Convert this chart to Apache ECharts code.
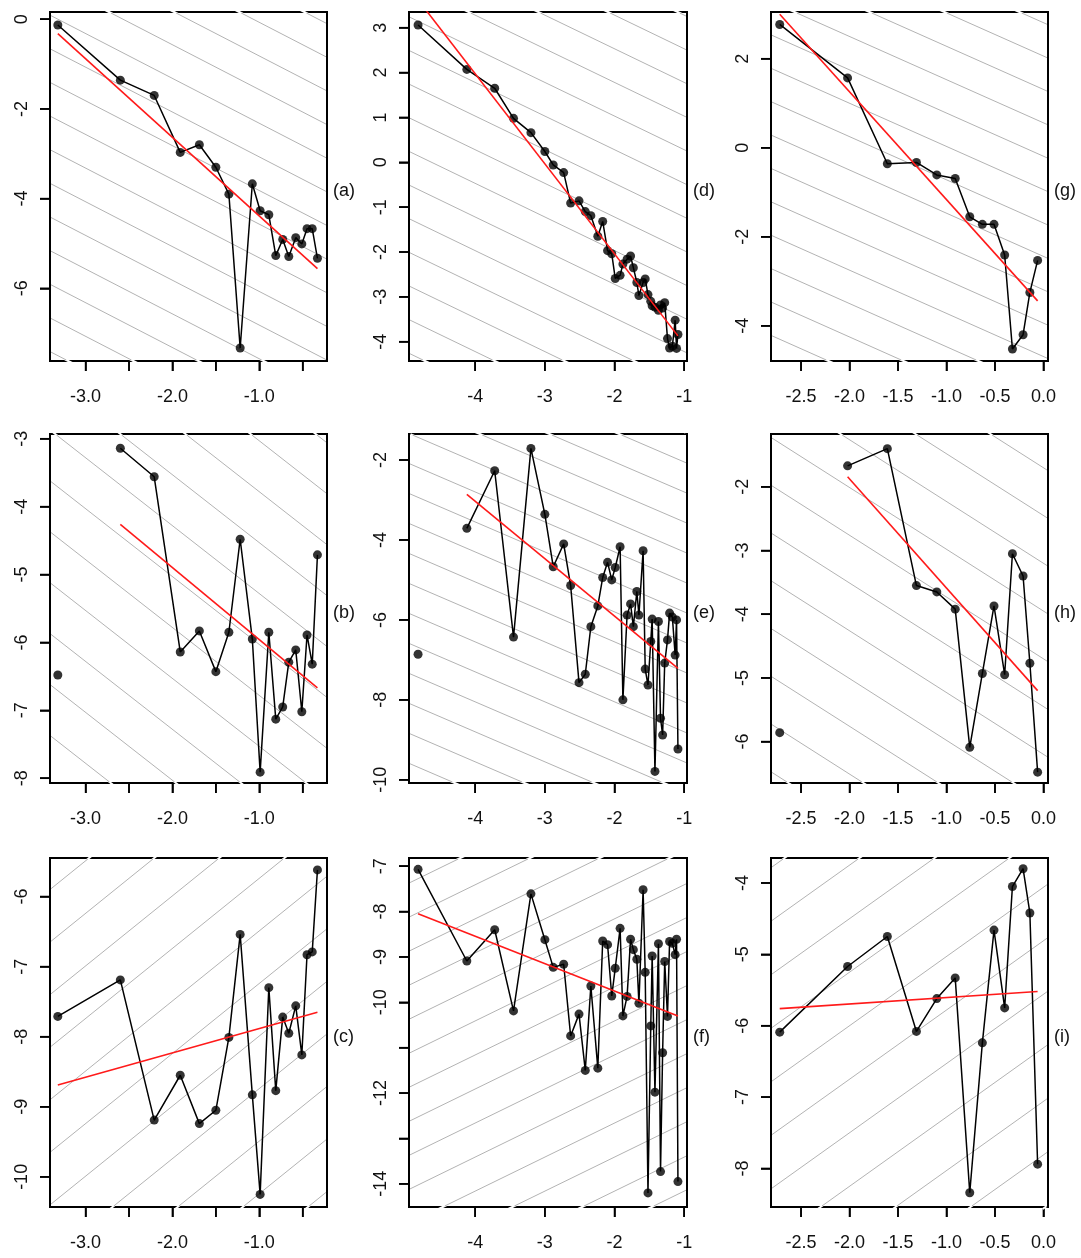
<!DOCTYPE html>
<html>
<head>
<meta charset="utf-8">
<script src="https://cdn.jsdelivr.net/npm/echarts@6/dist/echarts.min.js"></script>
<style>
  html, body { margin: 0; padding: 0; background: #fff; }
  #chart { width: 1081px; height: 1258px; background: #fff; }
</style>
</head>
<body>
<div id="chart"></div>
<script>
// Shared x positions for each column of panels
const colX1 = [-3.32, -2.60, -2.21, -1.91, -1.69, -1.50, -1.35, -1.22, -1.08, -0.99, -0.89, -0.81, -0.73, -0.66, -0.58, -0.51, -0.45, -0.39, -0.33];
const colX2 = [-4.82, -4.12, -3.72, -3.45, -3.20, -3.00, -2.88, -2.73, -2.63, -2.51, -2.42, -2.34, -2.24, -2.17, -2.10, -2.04, -1.99, -1.92, -1.88, -1.82,
               -1.77, -1.73, -1.68, -1.65, -1.59, -1.56, -1.52, -1.48, -1.46, -1.42, -1.37, -1.34, -1.31, -1.28, -1.24, -1.21, -1.17, -1.13, -1.11, -1.09];
const colX3 = [-2.72, -2.02, -1.61, -1.31, -1.10, -0.91, -0.76, -0.63, -0.51, -0.40, -0.32, -0.21, -0.14, -0.06];

// Observed values per panel
const yA = [-0.13, -1.36, -1.70, -2.97, -2.80, -3.30, -3.90, -7.33, -3.67, -4.27, -4.36, -5.27, -4.91, -5.29, -4.87, -5.01, -4.67, -4.67, -5.33];
const yB = [-6.48, -3.14, -3.56, -6.14, -5.83, -6.43, -5.85, -4.48, -5.95, -7.91, -5.85, -7.13, -6.95, -6.29, -6.11, -7.02, -5.89, -6.32, -4.71];
const yC = [-7.71, -7.19, -9.19, -8.55, -9.24, -9.05, -8.01, -6.54, -8.83, -10.25, -7.30, -8.77, -7.72, -7.95, -7.56, -8.26, -6.83, -6.79, -5.62];
const yD = [3.06, 2.07, 1.65, 0.98, 0.66, 0.24, -0.06, -0.23, -0.91, -0.86, -1.10, -1.19, -1.65, -1.32, -1.97, -2.04, -2.59, -2.52, -2.27, -2.16,
            -2.09, -2.35, -2.68, -2.97, -2.68, -2.60, -2.95, -3.10, -3.20, -3.23, -3.30, -3.18, -3.25, -3.13, -3.93, -4.14, -4.10, -3.52, -4.15, -3.84];
const yE = [-6.86, -3.71, -2.27, -6.43, -1.71, -3.36, -4.67, -4.10, -5.14, -7.57, -7.36, -6.17, -5.65, -4.94, -4.56, -5.00, -4.69, -4.17, -8.00, -5.88,
            -5.60, -6.17, -5.29, -5.88, -4.27, -7.23, -7.63, -6.54, -5.98, -9.79, -6.04, -8.46, -8.88, -7.08, -6.50, -5.83, -5.93, -6.88, -6.00, -9.23];
const yF = [-7.07, -9.09, -8.40, -10.19, -7.61, -8.62, -9.23, -9.16, -10.74, -10.26, -11.50, -9.64, -11.45, -8.65, -8.73, -9.86, -9.25, -8.37, -10.30, -9.87,
            -8.61, -8.84, -9.05, -10.02, -7.52, -9.34, -14.20, -10.52, -8.98, -11.98, -8.71, -13.73, -11.11, -9.10, -10.31, -8.66, -8.70, -8.95, -8.61, -13.95];
const yG = [2.77, 1.57, -0.36, -0.33, -0.61, -0.69, -1.55, -1.72, -1.72, -2.41, -4.52, -4.20, -3.25, -2.53];
const yH = [-5.86, -1.67, -1.40, -3.55, -3.65, -3.92, -6.09, -4.93, -3.87, -4.95, -3.05, -3.40, -4.77, -6.48];
const yI = [-6.09, -5.17, -4.75, -6.08, -5.62, -5.33, -8.34, -6.24, -4.66, -5.75, -4.05, -3.80, -4.42, -7.94];

// Fitted trend: value at the first and last x of the fitted points
const fitA = [-0.32, -5.56];
const fitB = [-4.26, -6.67];
const fitC = [-8.69, -7.65];
const fitD = [3.62, -3.87];
const fitE = [-2.86, -7.21];
const fitF = [-8.05, -10.30];
const fitG = [3.00, -3.44];
const fitH = [-1.84, -5.20];
const fitI = [-5.76, -5.52];

// Tick values
const xTicks1 = [-3, -2.5, -2, -1.5, -1, -0.5];
const xLabels1 = [-3, -2, -1];
const xTicks2 = [-4, -3, -2, -1];
const xTicks3 = [-2.5, -2, -1.5, -1, -0.5, 0];
const yTicksA = [0, -2, -4, -6];
const yTicksB = [-3, -4, -5, -6, -7, -8];
const yTicksC = [-6, -7, -8, -9, -10];
const yTicksD = [3, 2, 1, 0, -1, -2, -3, -4];
const yTicksE = [-2, -4, -6, -8, -10];
const yTicksF = [-7, -8, -9, -10, -11, -12, -13, -14];
const yLabelsF = [-7, -8, -9, -10, -12, -14];
const yTicksG = [2, 0, -2, -4];
const yTicksH = [-2, -3, -4, -5, -6];
const yTicksI = [-4, -5, -6, -7, -8];

const panelLabels = ['(a)', '(b)', '(c)', '(d)', '(e)', '(f)', '(g)', '(h)', '(i)'];

// ---- layout & style ----
const FONT = "'Liberation Sans', Arial, sans-serif";
const gridLeft = [50, 409, 771];
const gridWidth = [277, 278, 277];
const gridTop = [12, 434, 858];
const gridHeight = 349;
const TICK_LEN = 10;

const xRanges = [[-3.41, -0.22], [-4.95, -0.96], [-2.81, 0.047]];
const fmt1 = v => Number(v).toFixed(1);
const fmt0 = v => String(Math.round(v));
const xAxisSpec = [
  { ticks: xTicks1, labels: xLabels1, fmt: fmt1 },
  { ticks: xTicks2, labels: xTicks2, fmt: fmt0 },
  { ticks: xTicks3, labels: xTicks3, fmt: fmt1 }
];

// panels listed column by column: (a)(b)(c) | (d)(e)(f) | (g)(h)(i)
const panels = [
  { col: 0, row: 0, x: colX1, y: yA, fit: fitA, yr: [-7.62, 0.16],  yt: yTicksA, yl: yTicksA, hatch: { slope: -1,    step: 0.75, phase: 0.43 } },
  { col: 0, row: 1, x: colX1, y: yB, fit: fitB, yr: [-8.07, -2.93], yt: yTicksB, yl: yTicksB, hatch: { slope: -1,    step: 0.75, phase: 0.47 } },
  { col: 0, row: 2, x: colX1, y: yC, fit: fitC, yr: [-10.43, -5.45], yt: yTicksC, yl: yTicksC, hatch: { slope: 1,    step: 0.75, phase: 0.51 } },
  { col: 1, row: 0, x: colX2, y: yD, fit: fitD, yr: [-4.43, 3.35],  yt: yTicksD, yl: yTicksD, hatch: { slope: -0.75, step: 0.75, phase: 0.28 } },
  { col: 1, row: 1, x: colX2, y: yE, fit: fitE, yr: [-10.08, -1.35], yt: yTicksE, yl: yTicksE, hatch: { slope: -0.75, step: 0.75, phase: 0.20 } },
  { col: 1, row: 2, x: colX2, y: yF, fit: fitF, yr: [-14.51, -6.82], yt: yTicksF, yl: yLabelsF, hatch: { slope: 0.75, step: 0.75, phase: 0.09 } },
  { col: 2, row: 0, x: colX3, y: yG, fit: fitG, yr: [-4.79, 3.05],  yt: yTicksG, yl: yTicksG, hatch: { slope: -0.97, step: 0.75, phase: 0.56 } },
  { col: 2, row: 1, x: colX3, y: yH, fit: fitH, yr: [-6.65, -1.17], yt: yTicksH, yl: yTicksH, hatch: { slope: -0.97, step: 0.75, phase: 0.55 } },
  { col: 2, row: 2, x: colX3, y: yI, fit: fitI, yr: [-8.54, -3.65], yt: yTicksI, yl: yTicksI, hatch: { slope: 0.97, step: 0.75, phase: 0.44 } }
];

// Liang-Barsky clipping of a segment to a rectangle
function clipSeg(p, q, x0, y0, x1, y1) {
  let t0 = 0, t1 = 1;
  const dx = q[0] - p[0], dy = q[1] - p[1];
  const P = [-dx, dx, -dy, dy];
  const Q = [p[0] - x0, x1 - p[0], p[1] - y0, y1 - p[1]];
  for (let i = 0; i < 4; i++) {
    if (P[i] === 0) { if (Q[i] < 0) return null; continue; }
    const r = Q[i] / P[i];
    if (P[i] < 0) { if (r > t1) return null; if (r > t0) t0 = r; }
    else { if (r < t0) return null; if (r < t1) t1 = r; }
  }
  return { x1: p[0] + t0 * dx, y1: p[1] + t0 * dy, x2: p[0] + t1 * dx, y2: p[1] + t1 * dy };
}

// Plot frame and background shading (parallel grey lines y = slope*x + c, c on a fixed step)
function frameRenderer(h, xr, yr) {
  return function (params, api) {
    const cs = params.coordSys;
    const L = cs.x, T = cs.y, R = cs.x + cs.width, B = cs.y + cs.height;
    const children = [{
      type: 'rect', shape: { x: L, y: T, width: cs.width, height: cs.height },
      style: { fill: null, stroke: '#000', lineWidth: 2 }
    }];
    const cs4 = [yr[0] - h.slope * xr[0], yr[0] - h.slope * xr[1], yr[1] - h.slope * xr[0], yr[1] - h.slope * xr[1]];
    const cMin = Math.min.apply(null, cs4), cMax = Math.max.apply(null, cs4);
    const kMin = Math.floor((cMin - h.phase) / h.step) - 1;
    const kMax = Math.ceil((cMax - h.phase) / h.step) + 1;
    for (let k = kMin; k <= kMax; k++) {
      const c = h.phase + k * h.step;
      const xa = xr[0] - 2, xb = xr[1] + 2;
      const p = api.coord([xa, h.slope * xa + c]);
      const q = api.coord([xb, h.slope * xb + c]);
      const halo = clipSeg(p, q, L + 1.5, T - 2, R - 1.5, B + 2);
      if (halo) children.push({ type: 'line', shape: halo, style: { stroke: '#ffffff', lineWidth: 2 } });
      const ln = clipSeg(p, q, L + 1, T + 1, R - 1, B - 1);
      if (ln) children.push({ type: 'line', shape: ln, style: { stroke: '#b3b3b3', lineWidth: 1 } });
    }
    return { type: 'group', children: children };
  };
}

const grids = [], xAxes = [], yAxes = [], series = [], graphics = [];

panels.forEach((pn, i) => {
  const left = gridLeft[pn.col], top = gridTop[pn.row], w = gridWidth[pn.col];
  const xr = xRanges[pn.col];
  const xs = xAxisSpec[pn.col];
  grids.push({ left: left, top: top, width: w, height: gridHeight });
  xAxes.push({
    gridIndex: i, type: 'value', min: xr[0], max: xr[1],
    axisLine: { show: true, onZero: false, lineStyle: { color: '#000', width: 2 } },
    splitLine: { show: false },
    axisTick: { show: true, length: TICK_LEN, lineStyle: { color: '#000', width: 1.6 }, customValues: xs.ticks },
    axisLabel: { customValues: xs.labels, formatter: xs.fmt, fontSize: 18, color: '#111', fontFamily: FONT, margin: 27 }
  });
  yAxes.push({
    gridIndex: i, type: 'value', min: pn.yr[0], max: pn.yr[1],
    axisLine: { show: true, onZero: false, lineStyle: { color: '#000', width: 2 } },
    splitLine: { show: false },
    axisTick: { show: true, length: TICK_LEN, lineStyle: { color: '#000', width: 1.6 }, customValues: pn.yt },
    axisLabel: { customValues: pn.yl, formatter: fmt0, rotate: 90, fontSize: 18, color: '#111', fontFamily: FONT, margin: 19 }
  });

  // middle row: the first observation stands apart from the connected path and the fit
  const start = pn.row === 1 ? 1 : 0;
  const pts = pn.x.map((xv, j) => [xv, pn.y[j]]);
  const last = pn.x.length - 1;

  series.push({
    type: 'custom', xAxisIndex: i, yAxisIndex: i, silent: true, clip: false, z: 1,
    renderItem: frameRenderer(pn.hatch, xr, pn.yr),
    data: [[(xr[0] + xr[1]) / 2, (pn.yr[0] + pn.yr[1]) / 2]]
  });
  series.push({
    type: 'line', xAxisIndex: i, yAxisIndex: i, symbol: 'none', z: 3,
    lineStyle: { color: '#000', width: 1.5 }, data: pts.slice(start)
  });
  series.push({
    type: 'scatter', xAxisIndex: i, yAxisIndex: i, z: 4,
    symbol: 'circle', symbolSize: 9, itemStyle: { color: '#000' }, data: pts
  });
  series.push({
    type: 'line', xAxisIndex: i, yAxisIndex: i, symbol: 'none', z: 5,
    lineStyle: { color: '#ff1a1a', width: 1.6 },
    data: [[pn.x[start], pn.fit[0]], [pn.x[last], pn.fit[1]]]
  });

  graphics.push({
    type: 'text', x: left + w + 6, y: top + gridHeight / 2 + 5,
    style: { text: panelLabels[i], fontSize: 18, fontFamily: FONT, fill: '#111', verticalAlign: 'middle', align: 'left' }
  });
});

const chart = echarts.init(document.getElementById('chart'));
chart.setOption({
  animation: false,
  grid: grids,
  xAxis: xAxes,
  yAxis: yAxes,
  series: series,
  graphic: graphics
});

// Outward tick marks laid over the axes, placed with each panel's own scale
try {
  const tickMarks = [];
  panels.forEach((pn, i) => {
    const xr = xRanges[pn.col];
    xAxisSpec[pn.col].ticks.forEach(v => {
      const p = chart.convertToPixel({ xAxisIndex: i, yAxisIndex: i }, [v, pn.yr[0]]);
      if (p && isFinite(p[0])) {
        tickMarks.push({ type: 'rect', shape: { x: p[0] - 0.8, y: p[1], width: 1.6, height: TICK_LEN },
                         style: { fill: '#000' } });
      }
    });
    pn.yt.forEach(v => {
      const p = chart.convertToPixel({ xAxisIndex: i, yAxisIndex: i }, [xr[0], v]);
      if (p && isFinite(p[1])) {
        tickMarks.push({ type: 'rect', shape: { x: p[0] - TICK_LEN, y: p[1] - 0.8, width: TICK_LEN, height: 1.6 },
                         style: { fill: '#000' } });
      }
    });
  });
  if (tickMarks.length) chart.setOption({ graphic: graphics.concat(tickMarks) });
} catch (e) { /* axis ticks above already mark the scale */ }
</script>
</body>
</html>
